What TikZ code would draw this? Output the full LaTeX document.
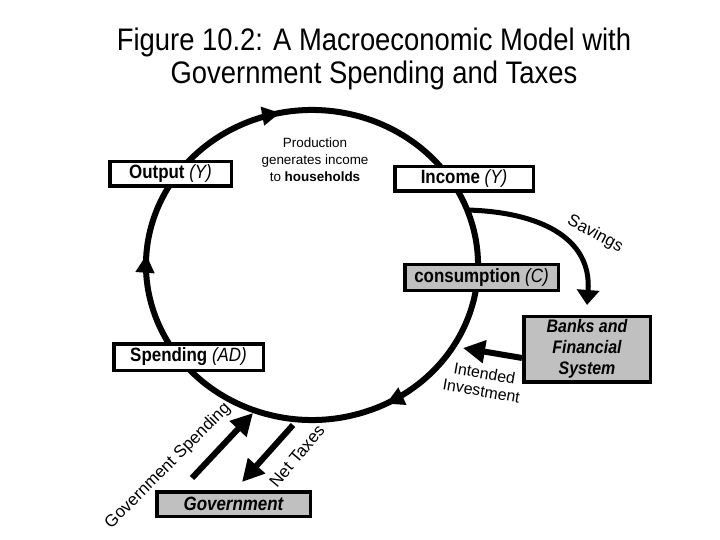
\documentclass[tikz,border=0pt]{standalone}
\usepackage{fontspec}
\setmainfont{Liberation Sans}
\newfontfamily\condfont{Liberation Sans}[FakeStretch=0.88]
\usetikzlibrary{arrows.meta,decorations.markings}
\definecolor{bx}{RGB}{192,192,192}
\tikzset{
    cbox/.style={rectangle,draw=black,line width=3.5bp,fill=#1,inner sep=0pt,font=\condfont\fontsize{19.3}{22}\selectfont\bfseries},
    cbox/.default=white,
    circflow/.style={line width=6bp,postaction={decorate},decoration={markings,
        mark=at position 0.064 with {\arrow{Triangle[length=18bp,width=18bp]}},
        mark=at position 0.272 with {\arrow{Triangle[length=18bp,width=18bp]}},
        mark=at position 0.728 with {\arrow{Triangle[length=18bp,width=18bp]}}}},
    farr/.style={line width=#1,-{Triangle[length=22bp,width=22bp]}},
    farr/.default=6bp,
    flbl/.style={font=\fontsize{16}{18}\selectfont},
}
\begin{document}
\begin{tikzpicture}[x=1bp,y=1bp]
\useasboundingbox (0,0) rectangle (720,-540);
\node[font=\condfont\fontsize{31.25}{33}\selectfont,align=center] (title) at (374,-59) {Figure 10.2: A Macroeconomic Model with\\Government Spending and Taxes};
\draw[circflow] (312,-265) ++(200:166 and 155) arc[start angle=200,end angle=-160,x radius=166,y radius=155];
\coordinate (sav) at (467,-210);
\coordinate (savtip) at (587,-305);
\coordinate (invtip) at (463,-348);
\coordinate (gstip) at (253,-413);
\coordinate (nttail) at (293,-425);
\node[font=\fontsize{13.5}{17}\selectfont,align=center] (prod) at (315,-160) {Production\\generates income\\to \textbf{households}};
\node[cbox,minimum width=121.5bp,minimum height=24.5bp] (out) at (170.5,-174) {Output {\mdseries\itshape (Y)}};
\node[cbox,minimum width=138.5bp,minimum height=24.5bp] (inc) at (464,-179) {Income {\mdseries\itshape (Y)}};
\node[cbox=bx,minimum width=153.5bp,minimum height=25.5bp] (cons) at (481.5,-277.5) {consumption {\mdseries\itshape (C)}};
\node[cbox,minimum width=149.5bp,minimum height=26.5bp] (spend) at (188.5,-357) {Spending {\mdseries\itshape (AD)}};
\node[cbox=bx,minimum width=153.5bp,minimum height=24.5bp,font=\condfont\fontsize{19.3}{22}\selectfont\bfseries\itshape] (gov) at (233.5,-504) {Government};
\node[cbox=bx,minimum width=126.5bp,minimum height=65.5bp,align=center,font=\condfont\fontsize{18.2}{21}\selectfont\bfseries\itshape] (banks) at (587,-349) {Banks and\\Financial\\System};
\draw[line width=5bp,-{Triangle[length=15bp,width=22bp]}] (sav) .. controls (540,-212) and (592,-238) .. (savtip);
\draw[farr] ([yshift=-9]banks.west) -- (invtip);
\draw[farr] ([shift={(-41.5,12)}]gov.north) -- (gstip);
\draw[farr] (nttail) -- ([shift={(8.5,8)}]gov.north);
\node[font=\fontsize{17}{19}\selectfont,rotate=-28] (savl) at (595,-234) {Savings};
\node[flbl,rotate=-10,align=center] (invl) at (483,-382) {Intended\\Investment};
\node[font=\fontsize{17}{20}\selectfont,rotate=45] (gsl) at (168,-466) {Government Spending};
\node[font=\fontsize{17}{20}\selectfont,rotate=50] (ntl) at (297,-456) {Net Taxes};
\end{tikzpicture}
\end{document}
